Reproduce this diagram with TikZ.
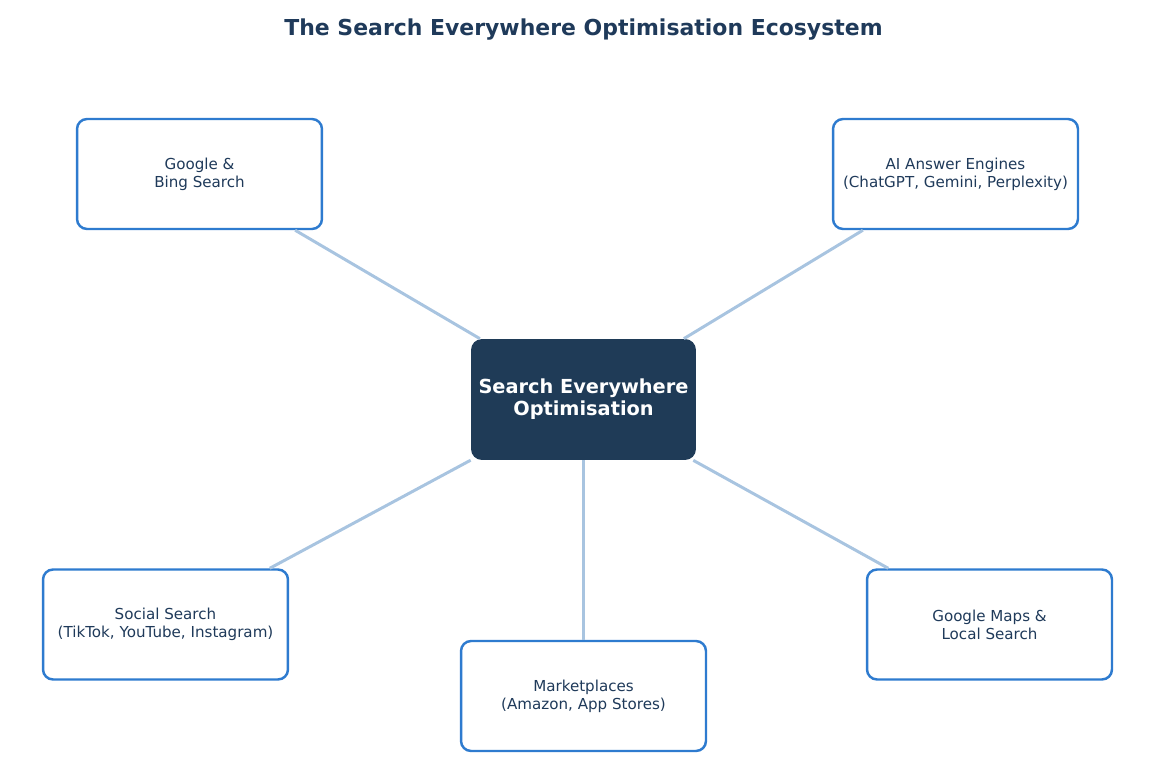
\documentclass[tikz,border=0pt]{standalone}
\usepackage{fontspec}
\setmainfont{DejaVu Sans}
\usetikzlibrary{positioning}
\definecolor{navy}{HTML}{1F3B57}
\definecolor{boxblue}{HTML}{2E7BCF}
\definecolor{linkblue}{HTML}{A8C4E0}
\definecolor{txt}{HTML}{1F3A5A}
\tikzset{
  hub/.style={fill=navy, rounded corners=0.22cm, minimum width=4.5cm, minimum height=2.42cm,
    text=white, align=center, font=\fontsize{11}{12.5}\selectfont\bfseries},
  topic/.style={draw=boxblue, line width=1.4pt, fill=white, rounded corners=0.2cm,
    minimum width=4.9cm, minimum height=2.2cm, text=txt, align=center,
    font=\fontsize{8.6}{10.2}\selectfont},
  link/.style={draw=linkblue, line width=1.7pt}
}
\begin{document}
\begin{tikzpicture}[x=0.02cm, y=-0.02cm]
  % page frame
  \useasboundingbox (0,0) rectangle (1167,777);
  % title
  \node[text=txt, font=\fontsize{12.5}{14}\selectfont\bfseries] (title) at (583.5,30)
    {The Search Everywhere Optimisation Ecosystem};
  % hub
  \node[hub] (seo) at (583.5,399.5) {Search Everywhere\\Optimisation};
  % channels
  \node[topic] (google) at (199.5,174) {Google \&\\Bing Search};
  \node[topic] (ai) at (955.5,174) {AI Answer Engines\\(ChatGPT, Gemini, Perplexity)};
  \node[topic] (social) at (165.5,624.5) {Social Search\\(TikTok, YouTube, Instagram)};
  \node[topic] (market) at (583.5,696) {Marketplaces\\(Amazon, App Stores)};
  \node[topic] (maps) at (989.5,624.5) {Google Maps \&\\Local Search};
  % links
  \foreach \n in {google, ai, social, market, maps}
    \draw[link] (seo) -- (\n);
\end{tikzpicture}
\end{document}
